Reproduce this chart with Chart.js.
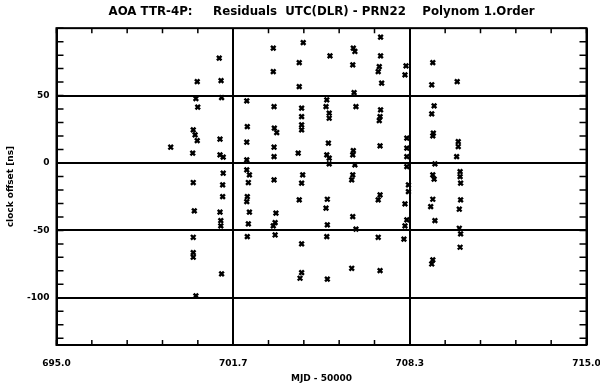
<!DOCTYPE html>
<html lang="de">
<head>
    <meta charset="UTF-8">
    <title>AOA TTR-4P Residuals UTC(DLR) - PRN22</title>
    <script src="https://cdn.jsdelivr.net/npm/chart.js"></script>
    <style>
        html, body { margin: 0; padding: 0; background: #fff; }
        #resChart { display: block; }
    </style>
</head>
<body>
    <canvas id="resChart" width="600" height="386"></canvas>

    <script>
        // Residuen UTC(DLR) - PRN22 (MJD - 50000 / ns)
        const mjd = [
            699.31,
            700.31, 700.26, 700.33, 700.16, 700.23, 700.31, 700.14, 700.16, 700.20, 700.16, 700.16, 700.16, 700.26,
            701.14, 701.21, 701.23, 701.17, 701.17, 701.29, 701.29, 701.27, 701.27, 701.17, 701.20, 701.20, 701.23,
            702.18, 702.20, 702.18, 702.18, 702.18, 702.28, 702.24, 702.20, 702.18, 702.28, 702.24, 702.20,
            703.18, 703.18, 703.21, 703.22, 703.31, 703.21, 703.21, 703.21, 703.28, 703.25, 703.18, 703.25,
            704.31, 704.16, 704.16, 704.25, 704.25, 704.25, 704.25, 704.12, 704.29, 704.25, 704.16, 704.25, 704.25, 704.19,
            705.32, 705.20, 705.17, 705.29, 705.29, 705.26, 705.20, 705.29, 705.29, 705.22, 705.17, 705.22, 705.20, 705.22,
            706.20, 706.26, 706.18, 706.23, 706.30, 706.20, 706.18, 706.26, 706.18, 706.14, 706.18, 706.30, 706.14,
            707.23, 707.23, 707.18, 707.14, 707.27, 707.23, 707.21, 707.18, 707.21, 707.21, 707.14, 707.14, 707.21,
            708.19, 708.15, 708.22, 708.22, 708.22, 708.22, 708.28, 708.28, 708.15, 708.22, 708.15, 708.11,
            709.20, 709.16, 709.25, 709.16, 709.22, 709.20, 709.28, 709.20, 709.25, 709.20, 709.12, 709.28, 709.20, 709.16,
            710.12, 710.16, 710.16, 710.10, 710.23, 710.23, 710.25, 710.25, 710.20, 710.20, 710.25, 710.23
        ];
        const offset = [
            11.7,
            60.4, 47.8, 41.4, 24.6, 20.9, 16.6, 7.3, -14.5, -35.5, -55.1, -66.5, -69.9, -98.6,
            77.8, 61.1, 48.5, 17.7, 6.0, 4.3, -7.6, -16.2, -24.9, -36.5, -42.7, -46.7, -82.3,
            46.1, 27.0, 15.4, 2.3, -5.1, -8.8, -14.5, -24.9, -28.6, -36.5, -45.2, -54.6,
            85.2, 67.8, 41.8, 25.8, 22.6, 11.7, 4.7, -12.5, -37.2, -44.2, -46.7, -53.4,
            89.3, 74.5, 56.7, 40.7, 34.4, 28.3, 24.6, 7.3, -8.8, -15.0, -27.4, -60.0, -81.3, -85.5,
            79.5, 46.8, 41.8, 37.0, 33.2, 14.7, 6.0, 3.6, -0.7, -26.9, -33.5, -45.9, -54.6, -86.2,
            85.2, 82.7, 72.8, 52.2, 41.8, 9.2, 6.0, -1.4, -8.8, -12.5, -39.8, -49.1, -78.1,
            93.3, 79.5, 71.5, 67.8, 59.2, 39.4, 34.4, 31.5, 12.7, -23.7, -27.4, -55.1, -79.8,
            72.0, 65.4, 18.4, 11.0, 4.7, -2.7, -16.2, -21.2, -30.3, -42.2, -46.7, -56.5,
            74.5, 58.0, 42.4, 36.4, 22.1, 20.1, -0.7, -8.8, -12.0, -26.9, -32.4, -42.7, -71.9, -74.9,
            60.4, 15.9, 12.2, 4.7, -6.4, -10.1, -15.0, -27.4, -34.3, -48.4, -52.6, -62.5
        ];

        const xTicks = [695.0, 701.667, 708.333, 715.0];
        const yTicks = [-100, -50, 0, 50];
        const xRange = [695, 715];
        const yRange = [-135, 100];

        const FONT = "'DejaVu Sans', sans-serif";

        // Rahmen + kleine Striche nach innen (wie im IDL-Plot)
        const framePlugin = {
            id: 'frame',
            afterDatasetsDraw(chart) {
                const { ctx, chartArea: a, scales } = chart;
                const xs = scales.x, ys = scales.y;
                ctx.save();
                ctx.strokeStyle = '#000';
                ctx.lineWidth = 1.5;
                ctx.beginPath();
                for (let v = xs.min; v <= xs.max + 1e-6; v += 4 / 3) {
                    const px = xs.getPixelForValue(v);
                    ctx.moveTo(px, a.bottom); ctx.lineTo(px, a.bottom - 5);
                    ctx.moveTo(px, a.top); ctx.lineTo(px, a.top + 5);
                }
                for (let v = -130; v <= ys.max; v += 10) {
                    const py = ys.getPixelForValue(v);
                    ctx.moveTo(a.left, py); ctx.lineTo(a.left + 7, py);
                    ctx.moveTo(a.right, py); ctx.lineTo(a.right - 7, py);
                }
                ctx.stroke();
                ctx.lineWidth = 2;
                ctx.strokeRect(a.left, a.top, a.right - a.left, a.bottom - a.top);
                ctx.restore();
            }
        };

        const ctx = document.getElementById('resChart').getContext('2d');
        new Chart(ctx, {
            type: 'scatter',
            data: {
                datasets: [{
                    data: mjd.map((x, i) => ({ x: x, y: offset[i] })),
                    pointStyle: 'crossRot',
                    pointRadius: 3.2,
                    borderColor: '#000',
                    backgroundColor: '#000',
                    borderWidth: 2.4
                }]
            },
            options: {
                responsive: false,
                animation: false,
                layout: { padding: { top: 0, right: 13.5, left: 0, bottom: 0 } },
                plugins: {
                    legend: { display: false },
                    tooltip: { enabled: false },
                    title: {
                        display: true,
                        fullSize: false,
                        text: 'AOA TTR-4P:     Residuals  UTC(DLR) - PRN22    Polynom 1.Order',
                        color: '#000',
                        font: { family: FONT, size: 11.8, weight: 'bold' },
                        padding: { top: 5, bottom: 9 }
                    }
                },
                scales: {
                    x: {
                        type: 'linear',
                        min: xRange[0],
                        max: xRange[1],
                        afterBuildTicks: s => { s.ticks = xTicks.map(v => ({ value: v })); },
                        afterFit: s => { s.height = 41; s.paddingLeft = 0; s.paddingRight = 0; },
                        border: { display: false },
                        grid: { color: '#000', lineWidth: 2, drawTicks: false },
                        ticks: {
                            color: '#000',
                            font: { family: FONT, size: 9, weight: 'bold' },
                            padding: 13,
                            maxRotation: 0,
                            autoSkip: false,
                            callback: v => v.toFixed(1)
                        },
                        title: {
                            display: true,
                            text: 'MJD - 50000',
                            color: '#000',
                            font: { family: FONT, size: 9, weight: 'bold' },
                            padding: { top: 0, bottom: 2 }
                        }
                    },
                    y: {
                        min: yRange[0],
                        max: yRange[1],
                        afterBuildTicks: s => { s.ticks = yTicks.map(v => ({ value: v })); },
                        afterFit: s => { s.width = 56.5; s.paddingTop = 0; s.paddingBottom = 0; },
                        border: { display: false },
                        grid: { color: '#000', lineWidth: 2, drawTicks: false },
                        ticks: {
                            color: '#000',
                            font: { family: FONT, size: 9, weight: 'bold' },
                            padding: 7
                        },
                        title: {
                            display: true,
                            text: 'clock offset [ns]',
                            color: '#000',
                            font: { family: FONT, size: 9, weight: 'bold' },
                            padding: { top: 5, bottom: 0 }
                        }
                    }
                }
            },
            plugins: [framePlugin]
        });
    </script>
</body>
</html>
